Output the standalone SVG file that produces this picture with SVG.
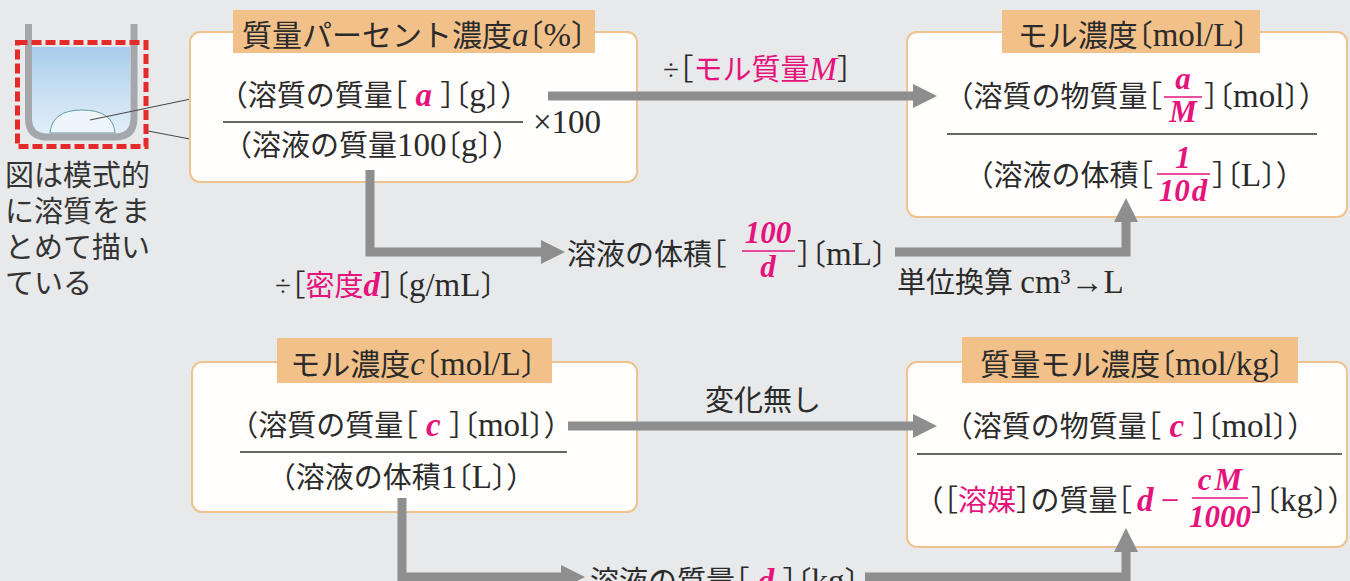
<svg xmlns="http://www.w3.org/2000/svg" width="1350" height="581" viewBox="0 0 1350 581">
  <defs>
    <style>
      .t { font-family: "Liberation Serif", "Noto Sans CJK JP", serif; font-size: 29px; fill: #2b2b2b; font-feature-settings: "halt"; }
      .ttl { font-size: 30px; }
      .l { font-size: 33px; }
      .f { font-size: 31px; }
      .i { font-style: italic; }
      .v { font-family: "Liberation Serif", serif; font-style: italic; font-weight: bold; fill: #e4147c; }
      .mg { fill: #e4147c; }
      .box { fill: #fffefc; stroke: #efc38f; stroke-width: 2; }
      .tab { fill: #f2c18a; }
      .rule { stroke: #333; stroke-width: 1.5; }
      .prule { stroke: #e4147c; stroke-width: 1.5; }
      .arr { fill: none; stroke: #8e8e8e; stroke-width: 9; stroke-linejoin: miter; marker-end: url(#head); }
      .lead { stroke: #444; stroke-width: 1; fill: none; }
      .note { font-family: "Noto Sans CJK JP", sans-serif; font-size: 29px; fill: #333; }
    </style>
    <marker id="head" viewBox="0 0 24 24" refX="0" refY="12" markerWidth="24" markerHeight="24" markerUnits="userSpaceOnUse" orient="auto">
      <path d="M0,0 L24,12 L0,24 Z" fill="#8e8e8e"/>
    </marker>
    <linearGradient id="water" x1="0" y1="0" x2="0" y2="1">
      <stop offset="0" stop-color="#a8cdec"/>
      <stop offset="0.45" stop-color="#c4ddf1"/>
      <stop offset="1" stop-color="#e1eef8"/>
    </linearGradient>
  </defs>

  <rect width="1350" height="581" fill="#e8e9ea"/>

  <!-- beaker sketch with note -->
  <g id="beaker-note">
    <path d="M32,47 V118 Q32,133 47,133 H115 Q130,133 130,118 V47 Z" fill="url(#water)"/>
    <path d="M50,133 Q52,110 82,110 Q113,110 115,133 Z" fill="#eef6fb" stroke="#5e9c9e" stroke-width="1"/>
    <path d="M28.5,24 V118 Q28.5,137 47,137 H115 Q134,137 134,118 V24" fill="none" stroke="#a4a8ac" stroke-width="7"/>
    <rect x="17.5" y="42.5" width="128.5" height="104" fill="none" stroke="#e52a2a" stroke-width="5" stroke-dasharray="10 4"/>
    <line class="lead" x1="90" y1="120" x2="210" y2="95"/>
    <line class="lead" x1="148" y1="131" x2="232" y2="147"/>
    <text class="note" x="5" y="186">図は模式的</text>
    <text class="note" x="5" y="222">に溶質をま</text>
    <text class="note" x="5" y="258">とめて描い</text>
    <text class="note" x="5" y="294">ている</text>
  </g>

  <!-- mass percent concentration -->
  <g id="node-mass-percent">
    <rect class="box" x="190" y="32" width="447" height="150" rx="10"/>
    <rect class="tab" x="233" y="10" width="362" height="43"/>
    <text class="t ttl" x="414" y="46" text-anchor="middle">質量パーセント濃度<tspan class="l i">a</tspan>〔<tspan class="l">%</tspan>〕</text>
    <text class="t" x="374" y="106" text-anchor="middle">（溶質の質量［<tspan class="v l"> a </tspan>］〔<tspan class="l">g</tspan>〕）</text>
    <line class="rule" x1="223" y1="122" x2="523" y2="122"/>
    <text class="t" x="372" y="156" text-anchor="middle">（溶液の質量<tspan class="l">100</tspan>〔<tspan class="l">g</tspan>〕）</text>
    <text class="t l" x="533" y="133">×100</text>
  </g>

  <!-- molar concentration from mass percent -->
  <g id="node-molarity">
    <rect class="box" x="907" y="32" width="440" height="185" rx="10"/>
    <rect class="tab" x="1002" y="10" width="258" height="43"/>
    <text class="t ttl" x="1133" y="46" text-anchor="middle">モル濃度〔<tspan class="l">mol/L</tspan>〕</text>
    <text class="t" x="1162" y="107" text-anchor="end">（溶質の物質量［</text>
    <text class="t v f" x="1183" y="89" text-anchor="middle">a</text>
    <line class="prule" x1="1164" y1="97" x2="1202" y2="97"/>
    <text class="t v f" x="1183" y="122" text-anchor="middle">M</text>
    <text class="t" x="1204" y="107">］〔<tspan class="l">mol</tspan>〕）</text>
    <line class="rule" x1="947" y1="134" x2="1317" y2="134"/>
    <text class="t" x="1153" y="186" text-anchor="end">（溶液の体積［</text>
    <text class="t v f" x="1183" y="168" text-anchor="middle">1</text>
    <line class="prule" x1="1157" y1="174" x2="1210" y2="174"/>
    <text class="t v f" x="1183" y="201" text-anchor="middle">10<tspan dx="2">d</tspan></text>
    <text class="t" x="1212" y="186">］〔<tspan class="l">L</tspan>〕）</text>
  </g>

  <!-- solution volume -->
  <g id="node-volume">
    <text class="t" x="567" y="265">溶液の体積［</text>
    <text class="t v f" x="768" y="243" text-anchor="middle">100</text>
    <line class="prule" x1="742" y1="251" x2="795" y2="251"/>
    <text class="t v f" x="768" y="277" text-anchor="middle">d</text>
    <text class="t" x="797" y="265">］〔<tspan class="l">mL</tspan>〕</text>
  </g>

  <!-- molar concentration c -->
  <g id="node-molarity-c">
    <rect class="box" x="192" y="362" width="445" height="150" rx="10"/>
    <rect class="tab" x="277" y="338" width="275" height="45"/>
    <text class="t ttl" x="413" y="375" text-anchor="middle">モル濃度<tspan class="l i">c</tspan>〔<tspan class="l">mol/L</tspan>〕</text>
    <text class="t" x="401" y="436" text-anchor="middle">（溶質の質量［<tspan class="v l"> c </tspan>］〔<tspan class="l">mol</tspan>〕）</text>
    <line class="rule" x1="240" y1="452" x2="567" y2="452"/>
    <text class="t" x="401" y="488" text-anchor="middle">（溶液の体積<tspan class="l">1</tspan>〔<tspan class="l">L</tspan>〕）</text>
  </g>

  <!-- solution mass -->
  <g id="node-solution-mass">
    <text class="t" x="590" y="592">溶液の質量［<tspan class="v l"> d </tspan>］〔<tspan class="l">kg</tspan>〕</text>
  </g>

  <!-- molality -->
  <g id="node-molality">
    <rect class="box" x="907" y="362" width="440" height="185" rx="10"/>
    <rect class="tab" x="962" y="337" width="336" height="46"/>
    <text class="t ttl" x="1132" y="375" text-anchor="middle">質量モル濃度〔<tspan class="l">mol/kg</tspan>〕</text>
    <text class="t" x="1130" y="437" text-anchor="middle">（溶質の物質量［<tspan class="v l"> c </tspan>］〔<tspan class="l">mol</tspan>〕）</text>
    <line class="rule" x1="917" y1="454" x2="1342" y2="454"/>
    <text class="t" x="1132" y="511" text-anchor="end">（［<tspan class="mg">溶媒</tspan>］の質量［</text>
    <text class="t v l" x="1137" y="511">d</text>
    <text class="t mg l" x="1170" y="511" text-anchor="middle">−</text>
    <text class="t v f" x="1220" y="490" text-anchor="middle">c<tspan dx="3">M</tspan></text>
    <line class="prule" x1="1192" y1="498" x2="1248" y2="498"/>
    <text class="t v f" x="1220" y="527" text-anchor="middle">1000</text>
    <text class="t" x="1251" y="511">］〔<tspan class="l">kg</tspan>〕）</text>
  </g>

  <!-- connectors, drawn over the box edges -->
  <g id="connectors">
    <line class="arr" x1="548" y1="96" x2="913" y2="96"/>
    <path class="arr" d="M370,170 V252 H541"/>
    <path class="arr" d="M895,252 H1126 V222"/>
    <line class="arr" x1="568" y1="426" x2="913" y2="426"/>
    <path class="arr" d="M402,498 V577 H561"/>
    <path class="arr" d="M865,577 H1126 V552"/>
    <text class="t" x="663" y="80">÷［<tspan class="mg">モル質量</tspan><tspan class="mg i l">M</tspan>］</text>
    <text class="t" x="275" y="296">÷［<tspan class="mg">密度</tspan><tspan class="v l">d</tspan>］〔<tspan class="l">g/mL</tspan>〕</text>
    <text class="t" x="897" y="293">単位換算 <tspan class="l">cm³→L</tspan></text>
    <text class="t" x="705" y="411">変化無し</text>
  </g>
</svg>
